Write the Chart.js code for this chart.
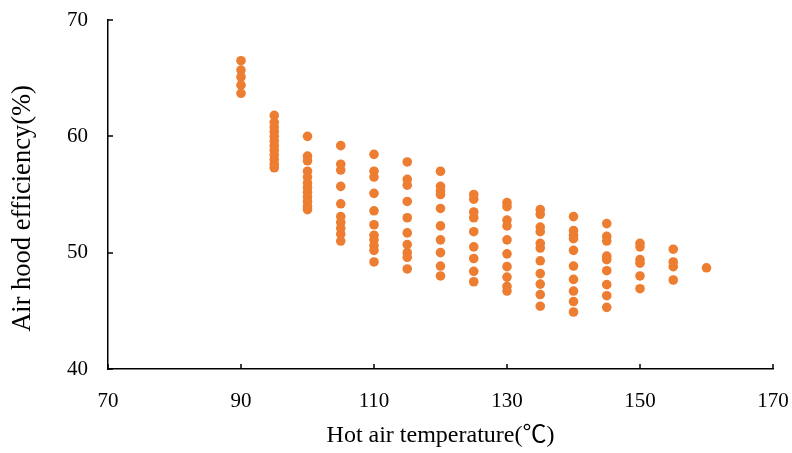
<!DOCTYPE html>
<html>
<head>
<meta charset="utf-8">
<script src="https://cdn.jsdelivr.net/npm/chart.js@4"></script>
<style>
html,body{margin:0;padding:0;background:#fff;}
#wrap{width:792px;height:453px;}
</style>
</head>
<body>
<div id="wrap"><canvas id="c" width="792" height="453"></canvas></div>
<script>
// Hot air temperature groups (°C)
const temperatures = [90, 95, 100, 105, 110, 115, 120, 125, 130, 135, 140, 145, 150, 155, 160];
// Air hood efficiency (%) per temperature
const eff90  = [66.5, 65.7, 65.1, 64.4, 63.7];
const eff95  = [61.8, 61.2, 60.8, 60.4, 60.0, 59.6, 59.2, 58.8, 58.4, 58.0, 57.6, 57.3];
const eff100 = [60.0, 58.3, 57.9, 57.0, 56.5, 56.0, 55.6, 55.2, 54.8, 54.4, 54.0, 53.7];
const eff105 = [59.2, 57.6, 57.1, 55.7, 54.2, 53.1, 52.6, 52.1, 51.6, 51.0];
const eff110 = [58.45, 57.0, 56.5, 55.1, 53.6, 52.4, 51.5, 51.1, 50.6, 50.2, 49.2];
const eff115 = [57.8, 56.3, 55.8, 54.4, 53.0, 51.7, 50.7, 50.0, 49.6, 48.6];
const eff120 = [57.0, 55.7, 55.3, 55.0, 53.8, 52.3, 51.1, 50.0, 48.85, 48.0];
const eff125 = [55.0, 54.6, 53.5, 53.0, 51.8, 50.5, 49.5, 48.4, 47.5];
const eff130 = [54.3, 53.95, 52.8, 52.3, 51.1, 49.9, 48.8, 47.9, 47.1, 46.7];
const eff135 = [53.7, 53.3, 52.2, 51.8, 50.8, 50.4, 49.3, 48.2, 47.3, 46.4, 45.4];
const eff140 = [53.1, 51.9, 51.5, 51.2, 50.2, 48.85, 47.7, 46.7, 45.8, 44.9];
const eff145 = [52.5, 51.4, 51.0, 49.7, 49.4, 48.45, 47.25, 46.3, 45.3];
const eff150 = [50.8, 50.5, 49.4, 49.1, 48.0, 46.9];
const eff155 = [50.3, 49.2, 48.8, 47.65];
const eff160 = [48.7];

const effGroups = [eff90, eff95, eff100, eff105, eff110, eff115, eff120, eff125, eff130, eff135, eff140, eff145, eff150, eff155, eff160];

// X ticks and Y ticks
const xTicks = [70, 90, 110, 130, 150, 170];
const yTicks = [40, 50, 60, 70];

const xTitle = 'Hot air temperature(℃)';
const yTitle = 'Air hood efficiency(%)';

const points = [];
temperatures.forEach((t, i) => {
  effGroups[i].forEach(v => points.push({x: t, y: v}));
});

const FONT = "'Liberation Serif', 'Times New Roman', 'Noto Sans CJK SC', serif";

const innerTicks = {
  id: 'innerTicks',
  afterDraw(chart) {
    const ctx = chart.ctx;
    const xs = chart.scales.x, ys = chart.scales.y;
    const ca = chart.chartArea;
    ctx.save();
    ctx.strokeStyle = '#000';
    ctx.lineWidth = 1.5;
    ctx.beginPath();
    xTicks.forEach(v => {
      const px = Math.round(xs.getPixelForValue(v));
      ctx.moveTo(px, ca.bottom);
      ctx.lineTo(px, ca.bottom - 5);
    });
    yTicks.forEach(v => {
      const py = Math.round(ys.getPixelForValue(v));
      ctx.moveTo(ca.left, py);
      ctx.lineTo(ca.left + 5, py);
    });
    ctx.stroke();
    // y-axis title, placed as in the reference (slightly below the axis centre)
    ctx.fillStyle = '#000';
    ctx.font = "26.5px " + FONT;
    ctx.textAlign = 'center';
    ctx.textBaseline = 'middle';
    ctx.translate(23, (ca.top + ca.bottom) / 2 + 14);
    ctx.rotate(-Math.PI / 2);
    ctx.fillText(yTitle, 0, 0);
    ctx.restore();
  }
};

new Chart(document.getElementById('c'), {
  type: 'scatter',
  data: {
    datasets: [{
      data: points,
      backgroundColor: '#ED7D31',
      borderColor: '#ED7D31',
      borderWidth: 0,
      pointRadius: 4.8,
      pointHoverRadius: 4.8
    }]
  },
  options: {
    responsive: false,
    animation: false,
    layout: {padding: {left: 0, right: 19, top: 20, bottom: 0}},
    plugins: {legend: {display: false}, tooltip: {enabled: false}},
    scales: {
      x: {
        type: 'linear',
        min: 70, max: 170,
        afterFit(s) { s.height = 84; s.paddingLeft = 0; s.paddingRight = 0; },
        afterBuildTicks(s) { s.ticks = xTicks.map(v => ({value: v})); },
        grid: {display: false, drawTicks: false},
        border: {display: true, color: '#000', width: 1.5},
        ticks: {color: '#000', padding: 20, font: {family: FONT, size: 21}, maxRotation: 0, autoSkip: false},
        title: {display: true, text: xTitle, color: '#000',
                font: {family: FONT, size: 24}, padding: {top: 0, bottom: 3}}
      },
      y: {
        type: 'linear',
        min: 40, max: 70,
        afterFit(s) { s.width = 108; s.paddingTop = 0; s.paddingBottom = 0; },
        afterBuildTicks(s) { s.ticks = yTicks.map(v => ({value: v})); },
        grid: {display: false, drawTicks: false},
        border: {display: true, color: '#000', width: 1.5},
        ticks: {color: '#000', padding: 20, font: {family: FONT, size: 21}},
        title: {display: false}
      }
    }
  },
  plugins: [innerTicks]
});
</script>
</body>
</html>
